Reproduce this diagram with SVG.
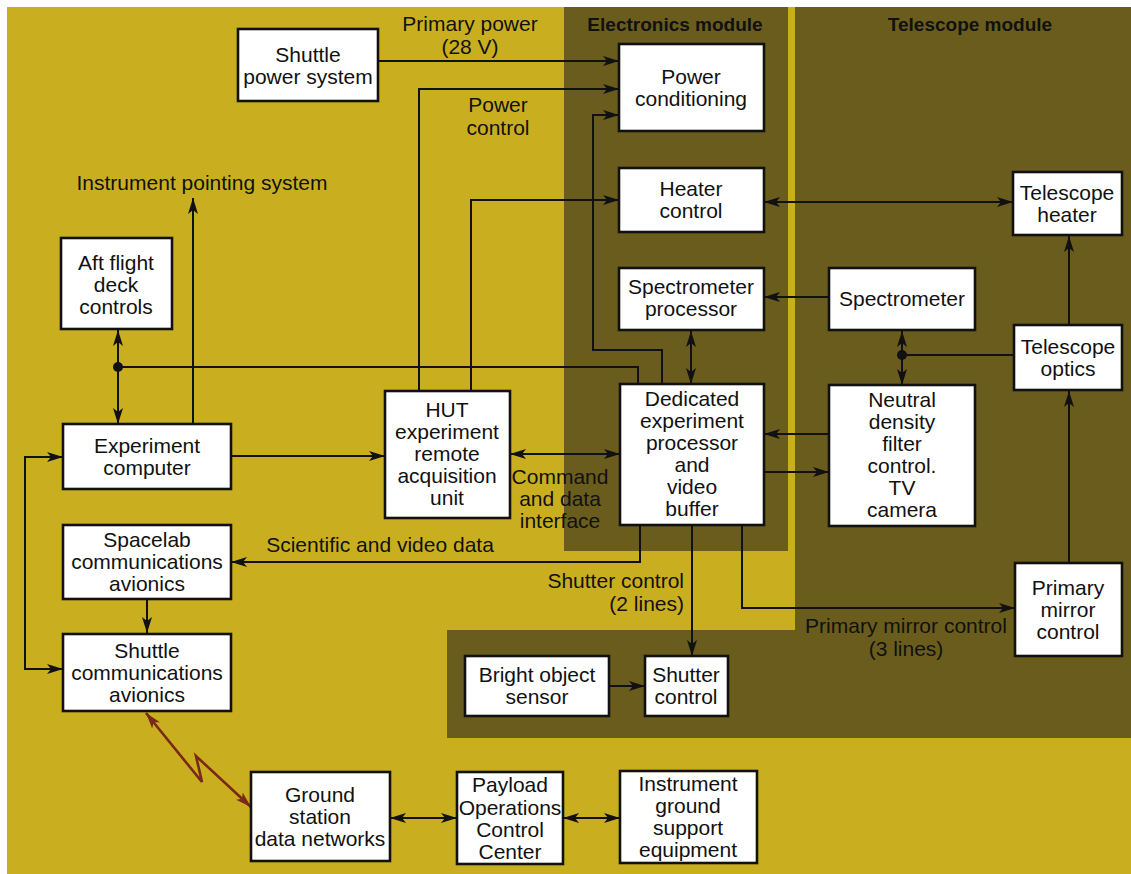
<svg xmlns="http://www.w3.org/2000/svg" width="1131" height="874" viewBox="0 0 1131 874">
<defs>
<style>
.bg{fill:#C9AF20}
.dk{fill:#6A5C1D}
.box{fill:#FFFFFF;stroke:#111;stroke-width:2.6}
.t{font-family:"Liberation Sans",Arial,sans-serif;font-size:21px;fill:#111;text-anchor:middle}
.lb{font-family:"Liberation Sans",Arial,sans-serif;font-size:21px;fill:#111;text-anchor:middle}
.hd{font-family:"Liberation Sans",Arial,sans-serif;font-size:19px;font-weight:bold;fill:#111;text-anchor:middle}
.ln{fill:none;stroke:#111;stroke-width:2}
.red{fill:none;stroke:#7A2818;stroke-width:2.6}
</style>
<marker id="ah" viewBox="0 0 16 10" refX="16" refY="5" markerWidth="16" markerHeight="10" markerUnits="userSpaceOnUse" orient="auto-start-reverse">
<path d="M0,0 L16,5 L0,10 L4,5 z" fill="#111"/>
</marker>
<marker id="ahr" viewBox="0 0 16 10" refX="16" refY="5" markerWidth="16" markerHeight="10" markerUnits="userSpaceOnUse" orient="auto-start-reverse">
<path d="M0,0 L16,5 L0,10 L4,5 z" fill="#7A2818"/>
</marker>
</defs>
<rect x="0" y="0" width="1131" height="874" fill="#FFFFFF"/>
<rect class="bg" x="7" y="7" width="1124" height="867"/>
<g id="regions">
<rect class="dk" x="564" y="7" width="224" height="544"/>
<rect class="dk" x="795" y="7" width="336" height="731"/>
<rect class="dk" x="447" y="630" width="684" height="108"/>
<text class="hd" x="675" y="31">Electronics module</text>
<text class="hd" x="970" y="31">Telescope module</text>
</g>
<g id="connectors">
<path class="ln" d="M378,61 H619" marker-end="url(#ah)"/>
<path class="ln" d="M419,391 V89 H619" marker-end="url(#ah)"/>
<path class="ln" d="M662,384 V350 H593 V115 H619" marker-end="url(#ah)"/>
<path class="ln" d="M471,391 V200 H619" marker-end="url(#ah)"/>
<path class="ln" d="M764,202 H1013" marker-start="url(#ah)" marker-end="url(#ah)"/>
<path class="ln" d="M1069,325 V236" marker-end="url(#ah)"/>
<path class="ln" d="M829,297 H764" marker-end="url(#ah)"/>
<path class="ln" d="M691,331 V384" marker-start="url(#ah)" marker-end="url(#ah)"/>
<path class="ln" d="M1014,355 H902"/>
<path class="ln" d="M902,331 V385" marker-start="url(#ah)" marker-end="url(#ah)"/>
<circle cx="902" cy="355" r="5" fill="#111"/>
<path class="ln" d="M829,434 H764" marker-end="url(#ah)"/>
<path class="ln" d="M764,472 H829" marker-end="url(#ah)"/>
<path class="ln" d="M1069,563 V391" marker-end="url(#ah)"/>
<path class="ln" d="M118,330 V424" marker-start="url(#ah)" marker-end="url(#ah)"/>
<path class="ln" d="M118,367 H638 V384"/>
<circle cx="118" cy="367" r="5" fill="#111"/>
<path class="ln" d="M193,424 V198" marker-end="url(#ah)"/>
<path class="ln" d="M231,456 H385" marker-end="url(#ah)"/>
<path class="ln" d="M510,454 H620" marker-start="url(#ah)" marker-end="url(#ah)"/>
<path class="ln" d="M63,457 H25 V669 H63" marker-start="url(#ah)" marker-end="url(#ah)"/>
<path class="ln" d="M147,599 V633" marker-end="url(#ah)"/>
<path class="ln" d="M640,525 V562 H231" marker-end="url(#ah)"/>
<path class="ln" d="M692,525 V656" marker-end="url(#ah)"/>
<path class="ln" d="M742,525 V608 H1015" marker-end="url(#ah)"/>
<path class="ln" d="M609,686 H645" marker-end="url(#ah)"/>
<path class="ln" d="M390,818 H457" marker-start="url(#ah)" marker-end="url(#ah)"/>
<path class="ln" d="M563,818 H620" marker-start="url(#ah)" marker-end="url(#ah)"/>
<path class="red" d="M146,713 L202,782 L196,756 L251,807" marker-start="url(#ahr)" marker-end="url(#ahr)"/>
</g>
<g id="labels">
<text class="lb" x="470" y="31">Primary power</text>
<text class="lb" x="470" y="54">(28 V)</text>
<text class="lb" x="498" y="112">Power</text>
<text class="lb" x="498" y="135">control</text>
<text class="lb" x="202" y="190">Instrument pointing system</text>
<text class="lb" x="560" y="484">Command</text>
<text class="lb" x="560" y="506">and data</text>
<text class="lb" x="560" y="528">interface</text>
<text class="lb" x="380" y="552">Scientific and video data</text>
<text class="lb" x="684" y="588" style="text-anchor:end">Shutter control</text>
<text class="lb" x="684" y="611" style="text-anchor:end">(2 lines)</text>
<text class="lb" x="906" y="633">Primary mirror control</text>
<text class="lb" x="906" y="656">(3 lines)</text>
</g>
<g id="shuttle-power"><rect class="box" x="238" y="29" width="140" height="72"/><text class="t" x="308" y="62">Shuttle</text><text class="t" x="308" y="84">power system</text></g>
<g id="power-conditioning"><rect class="box" x="619" y="44" width="145" height="87"/><text class="t" x="691" y="84">Power</text><text class="t" x="691" y="106">conditioning</text></g>
<g id="heater-control"><rect class="box" x="619" y="168" width="145" height="64"/><text class="t" x="691" y="196">Heater</text><text class="t" x="691" y="218">control</text></g>
<g id="telescope-heater"><rect class="box" x="1013" y="172" width="109" height="63"/><text class="t" x="1067" y="200">Telescope</text><text class="t" x="1067" y="222">heater</text></g>
<g id="spectrometer-processor"><rect class="box" x="619" y="268" width="145" height="62"/><text class="t" x="691" y="294">Spectrometer</text><text class="t" x="691" y="316">processor</text></g>
<g id="spectrometer"><rect class="box" x="829" y="268" width="146" height="62"/><text class="t" x="902" y="306">Spectrometer</text></g>
<g id="telescope-optics"><rect class="box" x="1014" y="325" width="108" height="65"/><text class="t" x="1068" y="354">Telescope</text><text class="t" x="1068" y="376">optics</text></g>
<g id="aft-flight-deck"><rect class="box" x="61" y="238" width="111" height="91"/><text class="t" x="116" y="270">Aft flight</text><text class="t" x="116" y="292">deck</text><text class="t" x="116" y="314">controls</text></g>
<g id="hut-raau"><rect class="box" x="385" y="391" width="125" height="127"/><text class="t" x="447" y="417">HUT</text><text class="t" x="447" y="439">experiment</text><text class="t" x="447" y="461">remote</text><text class="t" x="447" y="483">acquisition</text><text class="t" x="447" y="505">unit</text></g>
<g id="dep"><rect class="box" x="620" y="384" width="144" height="141"/><text class="t" x="692" y="406">Dedicated</text><text class="t" x="692" y="428">experiment</text><text class="t" x="692" y="450">processor</text><text class="t" x="692" y="472">and</text><text class="t" x="692" y="494">video</text><text class="t" x="692" y="516">buffer</text></g>
<g id="neutral-density"><rect class="box" x="829" y="385" width="146" height="141"/><text class="t" x="902" y="407">Neutral</text><text class="t" x="902" y="429">density</text><text class="t" x="902" y="451">filter</text><text class="t" x="902" y="473">control.</text><text class="t" x="902" y="495">TV</text><text class="t" x="902" y="517">camera</text></g>
<g id="experiment-computer"><rect class="box" x="63" y="424" width="168" height="65"/><text class="t" x="147" y="453">Experiment</text><text class="t" x="147" y="475">computer</text></g>
<g id="spacelab-comms"><rect class="box" x="63" y="525" width="168" height="74"/><text class="t" x="147" y="547">Spacelab</text><text class="t" x="147" y="569">communications</text><text class="t" x="147" y="591">avionics</text></g>
<g id="shuttle-comms"><rect class="box" x="63" y="634" width="168" height="77"/><text class="t" x="147" y="658">Shuttle</text><text class="t" x="147" y="680">communications</text><text class="t" x="147" y="702">avionics</text></g>
<g id="primary-mirror-control"><rect class="box" x="1015" y="563" width="107" height="93"/><text class="t" x="1068" y="595">Primary</text><text class="t" x="1068" y="617">mirror</text><text class="t" x="1068" y="639">control</text></g>
<g id="bright-object-sensor"><rect class="box" x="465" y="656" width="144" height="60"/><text class="t" x="537" y="682">Bright object</text><text class="t" x="537" y="704">sensor</text></g>
<g id="shutter-control"><rect class="box" x="645" y="656" width="83" height="60"/><text class="t" x="686" y="682">Shutter</text><text class="t" x="686" y="704">control</text></g>
<g id="ground-station"><rect class="box" x="251" y="772" width="139" height="89"/><text class="t" x="320" y="802">Ground</text><text class="t" x="320" y="824">station</text><text class="t" x="320" y="846">data networks</text></g>
<g id="poc-center"><rect class="box" x="457" y="772" width="106" height="92"/><text class="t" x="510" y="792">Payload</text><text class="t" x="510" y="815">Operations</text><text class="t" x="510" y="837">Control</text><text class="t" x="510" y="859">Center</text></g>
<g id="instrument-gse"><rect class="box" x="620" y="771" width="137" height="92"/><text class="t" x="688" y="791">Instrument</text><text class="t" x="688" y="813">ground</text><text class="t" x="688" y="835">support</text><text class="t" x="688" y="857">equipment</text></g>
</svg>
